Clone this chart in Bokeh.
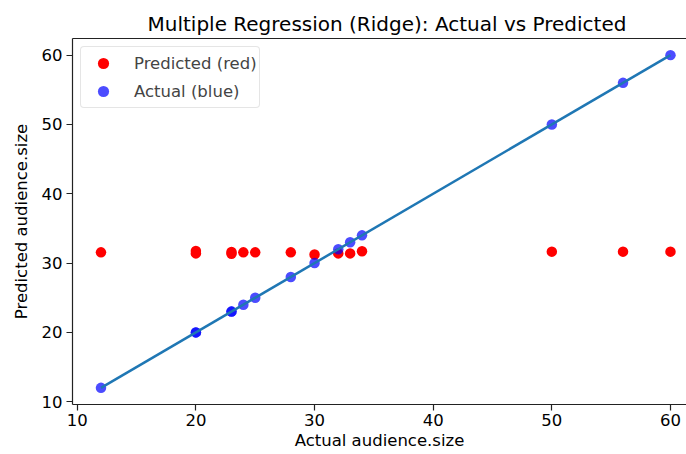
from bokeh.plotting import figure
from bokeh.models import Range1d, LinearAxis, Legend, LegendItem, FixedTicker
from bokeh.embed import file_html
from bokeh.resources import INLINE

actual = [12, 20, 20, 23, 23, 24, 25, 28, 30, 32, 33, 34, 50, 56, 60]
predicted = [31.55, 31.75, 31.4, 31.35, 31.6, 31.55, 31.55, 31.55, 31.25, 31.4, 31.4, 31.7, 31.65, 31.65, 31.65]
x_ticks = [10, 20, 30, 40, 50, 60]
y_ticks = [10, 20, 30, 40, 50, 60]

FONT = "DejaVu Sans"

p = figure(width=686, height=454, output_backend="svg", toolbar_location=None,
           x_range=Range1d(9.6, 61.35), y_range=Range1d(9.6, 62.4),
           min_border_left=72, min_border_right=0, min_border_top=38, min_border_bottom=50)
p.title.text = "Multiple Regression (Ridge): Actual vs Predicted"
p.title.align = "left"
p.title.offset = 75
p.title.standoff = 6
p.title.text_font = FONT
p.title.text_font_size = "20px"
p.title.text_font_style = "normal"
p.title.text_color = "black"
p.outline_line_color = None
p.grid.visible = False

for ax, ticks in [(p.xaxis[0], x_ticks), (p.yaxis[0], y_ticks)]:
    ax.ticker = ticks
    ax.major_label_text_font = FONT
    ax.major_label_text_font_size = "16.5px"
    ax.major_label_text_color = "black"
    ax.axis_label_text_font = FONT
    ax.axis_label_text_font_size = "16.5px"
    ax.axis_label_text_font_style = "normal"
    ax.axis_label_text_color = "black"
    ax.major_tick_in = 0
    ax.major_tick_out = 6
    ax.major_tick_line_width = 1.2
    ax.axis_line_width = 1.2
    ax.minor_tick_line_color = None
    ax.axis_line_color = "#222222"
    ax.major_tick_line_color = "#222222"
p.xaxis.axis_label = "Actual audience.size"
p.yaxis.axis_label = "Predicted audience.size"
p.xaxis.major_label_standoff = 3
p.yaxis.major_label_standoff = 4
p.xaxis.axis_label_standoff = 2
p.yaxis.axis_label_standoff = 8

top = LinearAxis(ticker=FixedTicker(ticks=[]), major_tick_line_color=None,
                 minor_tick_line_color=None, axis_line_color="#222222", axis_line_width=1.2)
p.add_layout(top, "above")

r_pred = p.scatter(actual, predicted, size=10.5, color="red", line_color=None)
r_act = p.scatter(actual, actual, size=10.5, color="blue", fill_alpha=0.7, line_color=None)
p.line([min(actual), max(actual)], [min(actual), max(actual)], line_color="#1f77b4", line_width=2.5)

legend = Legend(items=[LegendItem(label="Predicted (red)", renderers=[r_pred]),
                       LegendItem(label="Actual (blue)", renderers=[r_act])],
                location="top_left")
legend.label_text_font = FONT
legend.label_text_font_size = "16.5px"
legend.label_height = 28
legend.glyph_height = 28
legend.border_line_color = "#cccccc"
legend.border_radius = 4
legend.background_fill_alpha = 0.8
legend.margin = 8
legend.padding = 2
legend.spacing = -3
legend.glyph_width = 40
legend.label_standoff = 11
p.add_layout(legend, "center")

open("out.html", "w").write(file_html(p, INLINE))
